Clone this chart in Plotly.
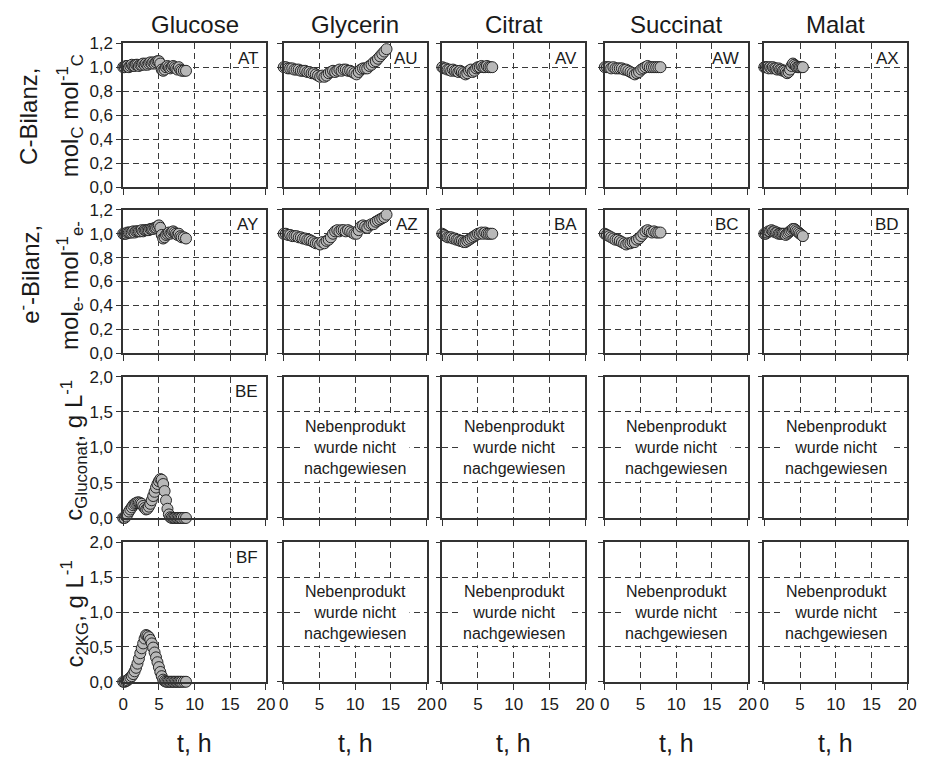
import plotly.graph_objects as go

# ---------------- data ----------------
substrates = ["Glucose", "Glycerin", "Citrat", "Succinat", "Malat"]

# Glucose
t_glucose = [0.0, 0.2, 0.4, 0.6, 0.8, 1.0, 1.2, 1.4, 1.6, 1.8, 2.0, 2.2, 2.4, 2.6, 2.8,
             3.0, 3.2, 3.4, 3.6, 3.8, 4.0, 4.2, 4.4, 4.6, 4.8, 5.0, 5.2, 5.4, 5.6, 5.8,
             6.0, 6.2, 6.4, 6.6, 6.8, 7.0, 7.2, 7.4, 7.6, 7.8, 8.0, 8.2, 8.5, 8.8]
c_bal_glucose = [1.00, 1.00, 1.01, 1.01, 1.00, 1.01, 1.02, 1.01, 1.01, 1.02, 1.02, 1.01, 1.02, 1.02, 1.03,
                 1.02, 1.03, 1.02, 1.03, 1.04, 1.03, 1.04, 1.03, 1.04, 1.05, 1.05, 1.03, 0.98, 0.97, 0.98,
                 1.00, 1.01, 1.00, 0.99, 1.00, 1.01, 1.00, 0.99, 0.98, 1.00, 0.98, 0.97, 0.97, 0.97]
e_bal_glucose = [1.00, 1.00, 1.00, 1.01, 1.01, 1.01, 1.01, 1.02, 1.01, 1.02, 1.02, 1.02, 1.02, 1.03, 1.02,
                 1.03, 1.03, 1.03, 1.03, 1.04, 1.04, 1.04, 1.05, 1.05, 1.06, 1.07, 1.05, 0.99, 0.96, 0.97,
                 0.99, 1.00, 1.01, 1.00, 1.01, 1.02, 1.01, 1.00, 0.99, 1.00, 0.98, 0.97, 0.97, 0.96]
gluconat_glucose = [0.00, 0.00, 0.02, 0.05, 0.09, 0.12, 0.15, 0.18, 0.20, 0.21, 0.22, 0.22, 0.21, 0.20, 0.17,
                    0.14, 0.12, 0.13, 0.16, 0.20, 0.25, 0.31, 0.37, 0.43, 0.48, 0.52, 0.55, 0.54, 0.48, 0.38,
                    0.25, 0.13, 0.05, 0.01, 0.00, 0.00, 0.00, 0.00, 0.00, 0.00, 0.00, 0.00, 0.00, 0.00]
kg2_glucose = [0.00, 0.00, 0.01, 0.02, 0.04, 0.06, 0.08, 0.11, 0.15, 0.20, 0.26, 0.33, 0.41, 0.48, 0.55,
               0.62, 0.67, 0.66, 0.64, 0.60, 0.55, 0.49, 0.42, 0.35, 0.28, 0.21, 0.14, 0.08, 0.03, 0.01,
               0.00, 0.00, 0.00, 0.00, 0.00, 0.00, 0.00, 0.00, 0.00, 0.00, 0.00, 0.00, 0.00, 0.00]

# Glycerin
t_glycerin = [0.0, 0.3, 0.6, 0.9, 1.2, 1.5, 1.8, 2.1, 2.4, 2.7, 3.0, 3.3, 3.6, 3.9, 4.2, 4.5, 4.8,
              5.1, 5.4, 5.7, 6.0, 6.3, 6.6, 6.9, 7.2, 7.5, 7.8, 8.1, 8.4, 8.7, 9.0, 9.3, 9.6, 9.9,
              10.2, 10.5, 10.8, 11.1, 11.4, 11.7, 12.0, 12.3, 12.6, 12.9, 13.2, 13.5, 13.8, 14.1, 14.4]
c_bal_glycerin = [1.00, 1.00, 0.99, 0.99, 0.99, 0.98, 0.98, 0.98, 0.97, 0.97, 0.97, 0.96, 0.96, 0.95, 0.95, 0.94, 0.93,
                  0.92, 0.93, 0.92, 0.93, 0.95, 0.96, 0.97, 0.96, 0.97, 0.98, 0.97, 0.98, 0.98, 0.97, 0.97, 0.96, 0.95,
                  0.94, 0.96, 0.98, 0.99, 0.99, 0.99, 1.01, 1.02, 1.04, 1.05, 1.07, 1.09, 1.11, 1.13, 1.15]
e_bal_glycerin = [1.00, 1.00, 0.99, 0.99, 0.98, 0.98, 0.98, 0.97, 0.97, 0.96, 0.96, 0.95, 0.95, 0.94, 0.93, 0.92, 0.92,
                  0.91, 0.93, 0.92, 0.94, 0.95, 0.97, 1.00, 1.02, 1.03, 1.02, 1.03, 1.03, 1.02, 1.03, 1.02, 1.01, 1.00,
                  1.00, 1.03, 1.06, 1.07, 1.06, 1.05, 1.07, 1.08, 1.08, 1.10, 1.11, 1.12, 1.13, 1.14, 1.16]

# Citrat
t_citrat = [0.0, 0.25, 0.5, 0.75, 1.0, 1.25, 1.5, 1.75, 2.0, 2.25, 2.5, 2.75, 3.0, 3.25, 3.5,
            3.75, 4.0, 4.25, 4.5, 4.75, 5.0, 5.25, 5.5, 5.75, 6.0, 6.25, 6.5, 6.75, 7.0]
c_bal_citrat = [1.00, 0.99, 0.99, 0.98, 0.98, 0.97, 0.98, 0.97, 0.97, 0.96, 0.97, 0.96, 0.95, 0.94, 0.95,
                0.97, 0.98, 0.96, 0.97, 0.99, 1.00, 1.00, 1.01, 1.00, 1.00, 1.01, 1.00, 1.00, 1.00]
e_bal_citrat = [1.00, 0.99, 0.98, 0.97, 0.97, 0.97, 0.96, 0.96, 0.95, 0.95, 0.94, 0.94, 0.93, 0.93, 0.94,
                0.95, 0.96, 0.97, 0.98, 0.99, 1.00, 1.00, 1.01, 1.00, 1.01, 1.00, 1.00, 1.00, 1.00]

# Succinat
t_succinat = [0.0, 0.3, 0.6, 0.9, 1.2, 1.5, 1.8, 2.1, 2.4, 2.7, 3.0, 3.3, 3.6, 3.9,
              4.2, 4.5, 4.8, 5.1, 5.4, 5.7, 6.0, 6.3, 6.6, 6.9, 7.2, 7.5, 7.8]
c_bal_succinat = [1.00, 1.00, 1.00, 0.99, 1.00, 0.99, 0.99, 0.99, 0.99, 0.98, 0.98, 0.97, 0.96, 0.95,
                  0.94, 0.95, 0.96, 0.98, 0.99, 1.00, 1.01, 1.00, 1.00, 1.00, 1.00, 1.00, 1.00]
e_bal_succinat = [1.00, 0.99, 0.98, 0.97, 0.96, 0.95, 0.95, 0.94, 0.93, 0.92, 0.91, 0.92, 0.92, 0.93,
                  0.93, 0.95, 0.96, 0.98, 1.00, 1.02, 1.03, 1.02, 1.01, 1.02, 1.01, 1.01, 1.01]

# Malat
t_malat = [0.0, 0.2, 0.4, 0.6, 0.8, 1.0, 1.2, 1.4, 1.6, 1.8, 2.0, 2.2, 2.4, 2.6,
           2.8, 3.0, 3.2, 3.4, 3.6, 3.8, 4.0, 4.2, 4.4, 4.6, 4.8, 5.0, 5.2, 5.4]
c_bal_malat = [1.00, 1.00, 1.00, 0.99, 1.00, 0.99, 1.00, 0.99, 0.99, 0.98, 0.99, 0.98, 0.98, 0.97,
               0.97, 0.96, 0.95, 0.96, 0.98, 1.01, 1.03, 1.02, 1.01, 1.00, 1.00, 1.00, 1.00, 1.00]
e_bal_malat = [1.00, 1.00, 1.01, 1.02, 1.02, 1.03, 1.02, 1.02, 1.01, 1.01, 1.00, 1.00, 1.00, 1.00,
               1.00, 0.99, 1.00, 1.01, 1.02, 1.03, 1.04, 1.04, 1.03, 1.02, 1.01, 1.00, 0.99, 0.98]

times = [t_glucose, t_glycerin, t_citrat, t_succinat, t_malat]
c_balances = [c_bal_glucose, c_bal_glycerin, c_bal_citrat, c_bal_succinat, c_bal_malat]
e_balances = [e_bal_glucose, e_bal_glycerin, e_bal_citrat, e_bal_succinat, e_bal_malat]

panel_labels = [["AT", "AU", "AV", "AW", "AX"],
                ["AY", "AZ", "BA", "BC", "BD"],
                ["BE", None, None, None, None],
                ["BF", None, None, None, None]]

x_ticks = [0, 5, 10, 15, 20]

# ---------------- layout geometry (pixels) ----------------
W, H = 925, 760
col_left = [120, 283, 444, 609, 771]
col_width = 145
row_span = [(35, 183), (206, 353), (377, 522), (547, 690)]
y_ranges = [[0, 1.2], [0, 1.2], [0, 2.0], [0, 2.0]]
y_dticks = [0.2, 0.2, 0.5, 0.5]

FONT = "Liberation Sans, Arial, Helvetica, sans-serif"
INK = "#1a1a1a"


def px_x(x):
    return x / W


def px_y(y):
    return 1 - y / H


fig = go.Figure()
layout = dict(
    width=W, height=H, autosize=False,
    margin=dict(l=0, r=0, t=0, b=0),
    paper_bgcolor="white", plot_bgcolor="white",
    showlegend=False,
    separators=",.",
    font=dict(family=FONT, color=INK, size=17),
)

marker = dict(size=11, color="#b8b8b8", line=dict(color="#262626", width=1))


def add_points(k, xs, ys):
    ax = "" if k == 1 else str(k)
    fig.add_trace(go.Scatter(
        x=xs, y=ys, mode="markers", marker=marker,
        xaxis="x" + ax, yaxis="y" + ax, cliponaxis=False, hoverinfo="x+y",
    ))


annotations = []
for r in range(4):
    top, bottom = row_span[r]
    for c in range(5):
        k = r * 5 + c + 1
        ax = "" if k == 1 else str(k)
        layout["xaxis" + ax] = dict(
            domain=[px_x(col_left[c]), px_x(col_left[c] + col_width)],
            anchor="y" + ax, range=[0, 20], tickvals=x_ticks,
            showticklabels=(r == 3), tickfont=dict(size=17, color=INK),
            showgrid=True, gridcolor="#3a3a3a", gridwidth=1, griddash="6px,4px",
            showline=True, mirror=True, linecolor="#333333", linewidth=1.5,
            ticks="outside", ticklen=6, tickcolor="#333333", tickwidth=1,
            zeroline=False, fixedrange=True,
        )
        layout["yaxis" + ax] = dict(
            domain=[px_y(bottom), px_y(top)],
            anchor="x" + ax, range=y_ranges[r], dtick=y_dticks[r], tick0=0,
            tickformat=".1f", showticklabels=(c == 0),
            tickfont=dict(size=17, color=INK),
            showgrid=True, gridcolor="#3a3a3a", gridwidth=1, griddash="6px,4px",
            showline=True, mirror=True, linecolor="#333333", linewidth=1.5,
            ticks="outside", ticklen=5, tickcolor="#333333", tickwidth=1,
            zeroline=False, fixedrange=True,
        )

        # data
        if r == 0:
            add_points(k, times[c], c_balances[c])
        elif r == 1:
            add_points(k, times[c], e_balances[c])
        elif c == 0:
            add_points(k, t_glucose, gluconat_glucose if r == 2 else kg2_glucose)
        else:
            # empty panel: a placeholder trace keeps the subplot drawn
            fig.add_trace(go.Scatter(
                x=[None], y=[None], mode="markers",
                xaxis="x" + ax, yaxis="y" + ax, hoverinfo="skip",
            ))

        # panel letter
        lab = panel_labels[r][c]
        if lab:
            annotations.append(dict(
                text=lab, xref="x" + ax + " domain", yref="y" + ax + " domain",
                x=0.955, y=0.975, xanchor="right", yanchor="top", showarrow=False,
                font=dict(size=17, color=INK),
            ))
        elif r >= 2:
            annotations.append(dict(
                text="Nebenprodukt<br>wurde nicht<br>nachgewiesen",
                xref="x" + ax + " domain", yref="y" + ax + " domain",
                x=0.5, y=0.5, xanchor="center", yanchor="middle", showarrow=False,
                bgcolor="white", borderpad=3, align="center",
                font=dict(size=16, color=INK),
            ))

# column titles and time axis titles
for c, name in enumerate(substrates):
    cx = px_x(col_left[c] + col_width / 2)
    annotations.append(dict(
        text=name, xref="paper", yref="paper", x=cx, y=px_y(16),
        xanchor="center", yanchor="middle", showarrow=False,
        font=dict(size=24, color=INK),
    ))
    annotations.append(dict(
        text="t, h", xref="paper", yref="paper", x=cx, y=px_y(753),
        xanchor="center", yanchor="middle", showarrow=False,
        font=dict(size=25, color=INK),
    ))

# y-axis titles (rotated)
y_titles = [
    (24, 110, "C-Bilanz,"),
    (66, 110, "mol<sub>C</sub> mol<sup>-1</sup><sub>C</sub>"),
    (24, 272, "e<sup>-</sup>-Bilanz,"),
    (66, 284, "mol<sub>e-</sub> mol<sup>-1</sup><sub>e-</sub>"),
    (70, 452, "c<sub>Gluconat</sub>, g L<sup>-1</sup>"),
    (70, 620, "c<sub>2KG</sub>, g L<sup>-1</sup>"),
]
for x0, y0, txt in y_titles:
    annotations.append(dict(
        text=txt, xref="paper", yref="paper", x=px_x(x0), y=px_y(y0),
        xanchor="center", yanchor="middle", textangle=-90, showarrow=False,
        font=dict(size=24, color=INK),
    ))

layout["annotations"] = annotations
fig.update_layout(**layout)
fig.write_html("out.html")
